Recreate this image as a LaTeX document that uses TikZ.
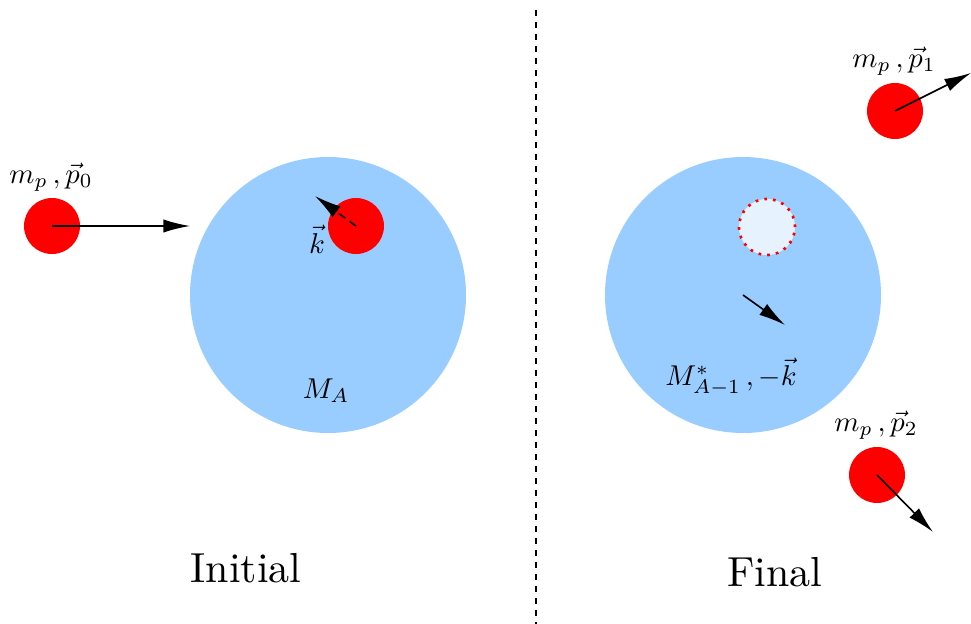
\documentclass[tikz,border=0pt]{standalone}
\usetikzlibrary{arrows.meta}
\definecolor{nucblue}{HTML}{99CCFF}
\definecolor{holefill}{HTML}{E6F3FF}
\newcommand{\lscale}[1]{\scalebox{2.15}{#1}}
\newcommand{\bscale}[1]{\scalebox{3.15}{#1}}
\begin{document}
\begin{tikzpicture}[x=0.75pt,y=-0.75pt,
  nucleus/.style={circle,fill=nucblue,minimum size=207pt,inner sep=0pt},
  proton/.style={circle,fill=red,minimum size=42pt,inner sep=0pt},
  hole/.style={circle,fill=holefill,draw=red,line width=2pt,dash pattern=on 2pt off 4.6pt,minimum size=42pt,inner sep=0pt},
  mom/.style={line width=1.2pt,-{Latex[length=20pt,width=10pt]}},
  lbl/.style={inner sep=0pt},
  big/.style={inner sep=0pt}]
\useasboundingbox (0,0) rectangle (971,624);
\draw[line width=1.1pt,dash pattern=on 4.5pt off 4.5pt] (536,10) -- (536,624);
% Initial
\node[nucleus] (NA) at (328,295) {};
\node[proton] (P0) at (52,226) {};
\coordinate (P0end) at (190,226);
\draw[mom] (P0.center) -- (P0end);
\node[lbl] (L0) at (51,177) {\lscale{$m_p\,,\vec{p}_0$}};
\node[proton] (Pin) at (356,226) {};
\coordinate (Kend) at (315,196);
\draw[mom,dash pattern=on 6pt off 4pt] (Pin.center) -- (Kend);
\node[lbl] (Lk) at (317,239) {\lscale{$\vec{k}$}};
\node[lbl] (LMA) at (326,391) {\lscale{$M_A$}};
\node[big] (Ini) at (246,568) {\bscale{Initial}};
% Final
\node[nucleus] (NB) at (743,295) {};
\node[hole] (H) at (767,227) {};
\coordinate (Rend) at (785,325);
\draw[mom] (NB.center) -- (Rend);
\node[lbl] (LMB) at (731,377) {\lscale{$M^{*}_{A-1}\,,-\vec{k}$}};
\node[proton] (P1) at (895,111) {};
\coordinate (P1end) at (971,73);
\draw[mom] (P1.center) -- (P1end);
\node[lbl] (L1) at (894,61) {\lscale{$m_p\,,\vec{p}_1$}};
\node[proton] (P2) at (877,475) {};
\coordinate (P2end) at (933,532);
\draw[mom] (P2.center) -- (P2end);
\node[lbl] (L2) at (876,425) {\lscale{$m_p\,,\vec{p}_2$}};
\node[big] (Fin) at (775,572) {\bscale{Final}};
\end{tikzpicture}
\end{document}
